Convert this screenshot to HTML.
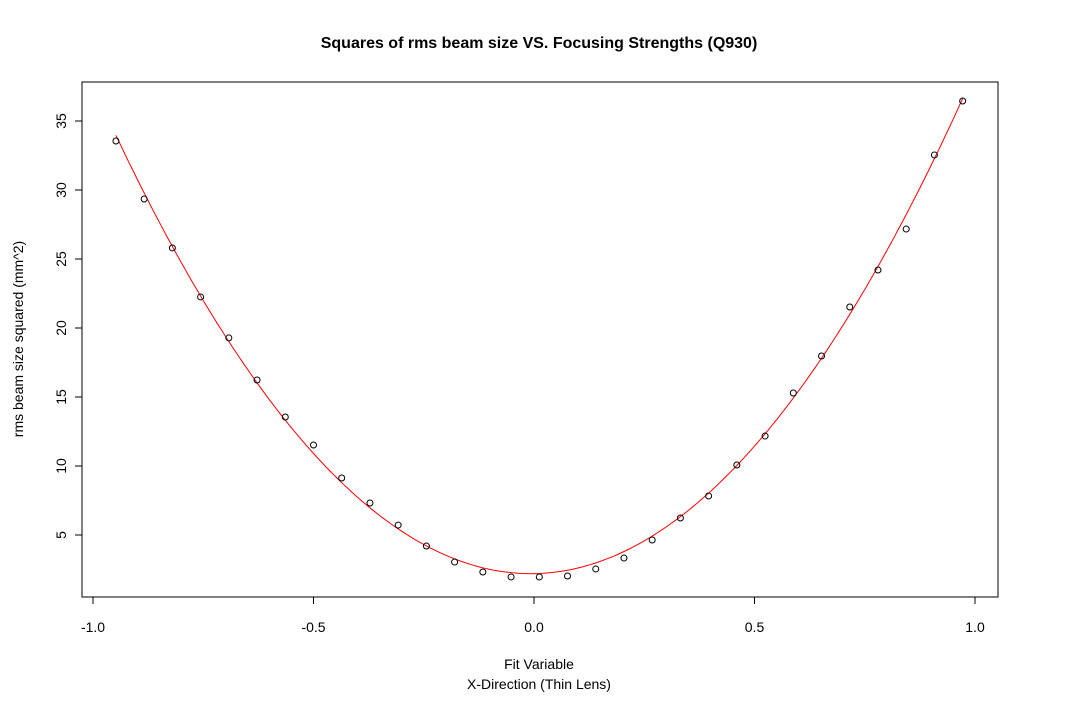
<!DOCTYPE html>
<html><head><meta charset="utf-8"><style>
html,body{margin:0;padding:0;background:#fff;}
svg text{font-family:"Liberation Sans",Arial,sans-serif;}
</style></head><body>
<svg id="chart" width="1080" height="698" xmlns="http://www.w3.org/2000/svg">
<rect width="1080" height="698" fill="#fff"/>
<text x="539" y="48" text-anchor="middle" font-size="16" font-weight="bold">Squares of rms beam size VS. Focusing Strengths (Q930)</text>
<rect x="82" y="82" width="916" height="515" fill="none" stroke="#000" stroke-width="1"/>
<text x="539" y="669" text-anchor="middle" font-size="14">Fit Variable</text>
<text x="539" y="689" text-anchor="middle" font-size="14">X-Direction (Thin Lens)</text>
<text transform="translate(23,339) rotate(-90)" text-anchor="middle" font-size="14">rms beam size squared (mm^2)</text>
<g id="axes"></g>
<path id="fit" fill="none" stroke="#f00" stroke-width="1"/>
<g id="pts"></g>
</svg>
<script>
const xTicks=[-1.0,-0.5,0.0,0.5,1.0];
const xTickLabels=["-1.0","-0.5","0.0","0.5","1.0"];
const yTicks=[5,10,15,20,25,30,35];
const yTickLabels=["5","10","15","20","25","30","35"];
const xVals=[-0.948,-0.884,-0.82,-0.756,-0.692,-0.628,-0.564,-0.5,-0.436,-0.372,-0.308,-0.244,-0.18,-0.116,-0.052,0.012,0.076,0.14,0.204,0.268,0.332,0.396,0.46,0.524,0.588,0.652,0.716,0.78,0.844,0.908,0.972];
const yVals=[33.55,29.35,25.8,22.25,19.28,16.23,13.55,11.52,9.13,7.32,5.72,4.2,3.04,2.32,1.96,1.96,2.03,2.54,3.33,4.64,6.23,7.83,10.07,12.17,15.29,17.97,21.52,24.2,27.17,32.54,36.45];
const fitCoef=[2.2,0.53,35.9];
const fitRange=[-0.948,0.972];
const NS="http://www.w3.org/2000/svg";
const X=v=>534+v*441, Y=v=>535-(v-5)*13.8;
const ax=document.getElementById('axes');
function mk(t,a,p){const e=document.createElementNS(NS,t);for(const k in a)e.setAttribute(k,a[k]);p.appendChild(e);return e;}
mk('line',{x1:X(-1),x2:X(1),y1:597,y2:597,stroke:'#000'},ax);
mk('line',{x1:82,x2:82,y1:Y(5),y2:Y(35),stroke:'#000'},ax);
xTicks.forEach((v,i)=>{
 const l=mk('line',{x1:X(v),x2:X(v),y1:597,y2:604,stroke:'#000'},ax);
 
 
 const t=mk('text',{x:X(v),y:632,'text-anchor':'middle','font-size':14},ax);t.textContent=xTickLabels[i];
 
 
});
yTicks.forEach((v,i)=>{
 const l=mk('line',{x1:75,x2:82,y1:Y(v),y2:Y(v),stroke:'#000'},ax);
 
 
 const t=mk('text',{transform:`translate(66,${Y(v)}) rotate(-90)`,'text-anchor':'middle','font-size':14},ax);t.textContent=yTickLabels[i];
 
 
});
let d='';
for(let i=0;i<=200;i++){const x=fitRange[0]+(fitRange[1]-fitRange[0])*i/200;const y=fitCoef[0]+fitCoef[1]*x+fitCoef[2]*x*x;d+=(i?'L':'M')+X(x).toFixed(1)+','+Y(y).toFixed(1);}
document.getElementById('fit').setAttribute('d',d);
const pg=document.getElementById('pts');
xVals.forEach((x,i)=>{
 const c=mk('circle',{cx:X(x),cy:Y(yVals[i]),r:3,fill:'none',stroke:'#000','stroke-width':1},pg);
 
 
});
</script>
</body></html>
